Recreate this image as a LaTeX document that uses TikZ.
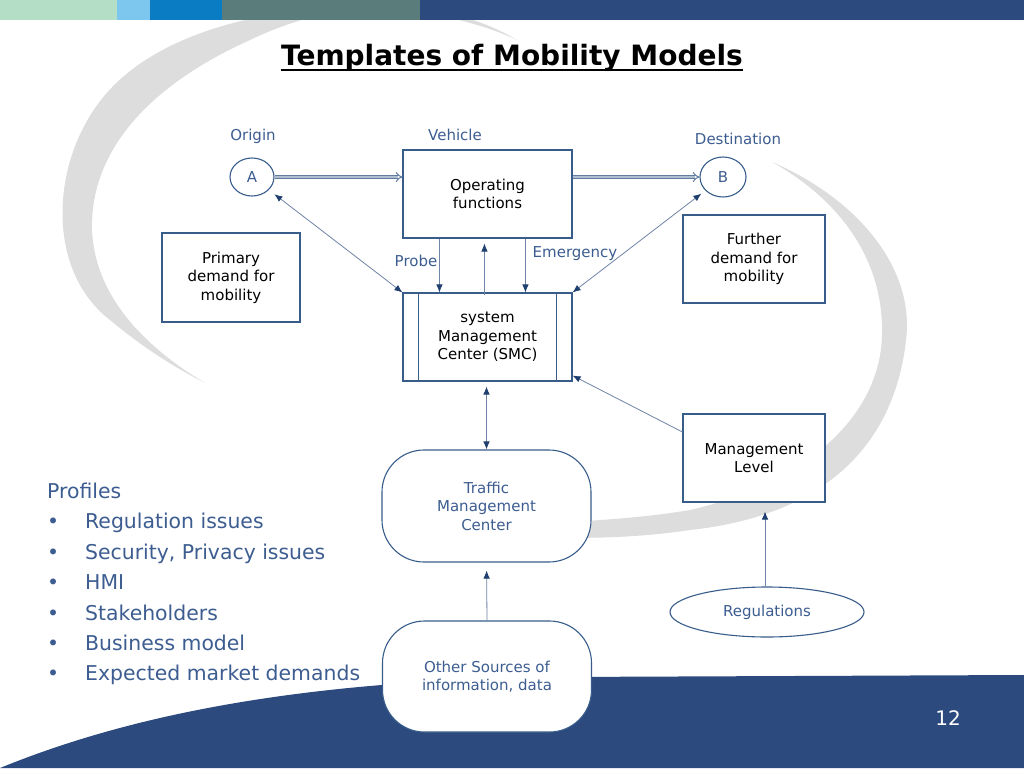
\documentclass[tikz,border=0pt]{standalone}
\usepackage{fontspec}
\setmainfont{DejaVu Sans}
\usepackage{xcolor}
\usetikzlibrary{arrows.meta,shapes.geometric}

\definecolor{barmint}{HTML}{B4DEC6}
\definecolor{barsky}{HTML}{7DC6EE}
\definecolor{barblue}{HTML}{0A7CC3}
\definecolor{barteal}{HTML}{5A7C7A}
\definecolor{navy}{HTML}{2D4A7F}
\definecolor{boxblue}{HTML}{385D8A}
\definecolor{txtblue}{HTML}{3D5D91}
\definecolor{linegray}{HTML}{6F84A6}
\definecolor{tipnavy}{HTML}{1F3F6F}
\definecolor{swoosh}{HTML}{DDDDDD}

\newcommand{\boxfont}{\fontsize{15}{18.5}\selectfont}
\newcommand{\listfont}{\fontsize{20.4}{30.4}\selectfont}
\newcommand{\bul}{\makebox[38pt][l]{\textbullet}}

\begin{document}
\begin{tikzpicture}[x=1pt,y=-1pt,
    >={Latex[length=8pt,width=6.5pt,color=tipnavy]},
    box/.style={draw=boxblue, line width=1.1pt, fill=white, inner sep=0pt, align=center, font=\boxfont},
    circ/.style={ellipse, draw=boxblue, line width=1.1pt, fill=white, inner sep=0pt, minimum width=44pt, minimum height=38pt, text=txtblue, font=\boxfont},
    pill/.style={box, rounded corners=42pt, minimum width=209pt, minimum height=112pt, text=txtblue},
    oval/.style={ellipse, draw=boxblue, line width=1.1pt, fill=white, inner sep=0pt, minimum width=194pt, minimum height=50pt, text=txtblue, font=\boxfont},
    lbl/.style={inner sep=0pt, text=txtblue, font=\boxfont},
    listitem/.style={anchor=base west, inner sep=0pt, text=txtblue, font=\listfont},
    dbl/.style={draw=boxblue!80, double=boxblue!40, double distance=2.4pt, line width=1pt, -{Implies}},
    conn/.style={draw=linegray, line width=0.8pt}]

    % page
    \useasboundingbox (0,0) rectangle (1024,768);
    \fill[white] (0,0) rectangle (1024,768);

    % grey swoosh behind the diagram
    \fill[swoosh] (517,40) .. controls (400,-15) and (185,0) .. (105,95)
        .. controls (50,160) and (45,270) .. (110,320)
        .. controls (140,345) and (170,365) .. (205,383)
        .. controls (150,350) and (95,300) .. (92,230)
        .. controls (90,150) and (150,85) .. (250,40)
        .. controls (350,-8) and (450,0) .. (517,40) -- cycle;
    \fill[swoosh] (772,162) .. controls (860,200) and (915,270) .. (906,340)
        .. controls (895,440) and (830,515) .. (690,530)
        .. controls (610,542) and (520,540) .. (430,525)
        .. controls (520,525) and (620,522) .. (690,510)
        .. controls (800,485) and (880,420) .. (882,335)
        .. controls (884,260) and (840,200) .. (772,162) -- cycle;

    % top bar
    \fill[barmint] (0,0) rectangle (117,20);
    \fill[barsky] (117,0) rectangle (150,20);
    \fill[barblue] (150,0) rectangle (222,20);
    \fill[barteal] (222,0) rectangle (420,20);
    \fill[navy] (420,0) rectangle (1024,20);

    % bottom wave
    \fill[navy] (0,768) .. controls (130,715) and (300,680) .. (560,677) -- (1024,675) -- (1024,768) -- cycle;
    \node[text=white, inner sep=0pt, font=\fontsize{20}{24}\selectfont] (pnum) at (948,718) {12};

    % title
    \node[anchor=base, inner sep=0pt, font=\fontsize{28}{34}\selectfont\bfseries] (title) at (512,66) {Templates of Mobility Models};
    \draw[line width=1.6pt] ([yshift=-4pt]title.base west) -- ([yshift=-4pt]title.base east);

    % origin, vehicle, destination
    \node[circ] (A) at (252,177) {A};
    \node[circ, minimum width=46pt, minimum height=40pt] (B) at (723,177) {B};
    \node[box, minimum width=169pt, minimum height=88pt] (ops) at (487.5,194) {Operating\\functions};
    \node[lbl] (origin) at (253,136) {Origin};
    \node[lbl] (vehicle) at (455,135) {Vehicle};
    \node[lbl] (dest) at (738,139) {Destination};

    % demand boxes
    \node[box, minimum width=138pt, minimum height=89pt] (prim) at (231,277.5) {Primary\\demand for\\mobility};
    \node[box, minimum width=142pt, minimum height=88pt] (furth) at (754,259) {Further\\demand for\\mobility};

    % management centres
    \node[box, minimum width=169pt, minimum height=88pt] (smc) at (487.5,337) {system\\Management\\Center (SMC)};
    \draw[boxblue, line width=1.1pt] ([xshift=16pt]smc.north west) -- ([xshift=16pt]smc.south west);
    \draw[boxblue, line width=1.1pt] ([xshift=-16pt]smc.north east) -- ([xshift=-16pt]smc.south east);
    \node[box, minimum width=142pt, minimum height=88pt] (mgmt) at (754,458) {Management\\Level};
    \node[pill] (tmc) at (486.5,506) {Traffic\\Management\\Center};
    \node[pill, minimum height=111pt] (other) at (487,676.5) {Other Sources of\\information, data};
    \node[oval] (reg) at (767,612) {Regulations};

    % flows
    \draw[dbl] (A.east) -- (A.east -| ops.west);
    \draw[dbl] (ops.east |- B.west) -- (B.west);
    \draw[conn, <->, shorten >=7pt] (smc.north west) -- (A);
    \draw[conn, <->, shorten >=5pt] (smc.north east) -- (B);
    \draw[conn, ->] ([xshift=37pt]ops.south west) -- ([xshift=37pt]smc.north west);
    \draw[conn, ->] ([xshift=82pt,yshift=-3pt]smc.north west) -- ([xshift=82pt,yshift=-5pt]ops.south west);
    \draw[conn, ->] ([xshift=123pt]ops.south west) -- ([xshift=123pt]smc.north west);
    \node[lbl] (probe) at (416,261) {Probe};
    \node[lbl] (emerg) at (575,254) {Emergency};
    \draw[conn, <->, shorten <=5pt] ([xshift=-1pt]smc.south) -- (tmc.north);
    \draw[conn, ->] ([yshift=26pt]mgmt.west) -- ([yshift=6pt]smc.south east);
    \draw[conn, ->, shorten >=8pt] (other.north) -- (tmc.south);
    \draw[conn, ->, shorten >=9pt] ([xshift=-2pt]reg.north) -- ([xshift=11pt]mgmt.south);

    % profiles
    \node[listitem] (prof) at (47,498.5) {Profiles};
    \node[listitem] (prof1) at (47,528.9) {\bul Regulation issues};
    \node[listitem] (prof2) at (47,559.3) {\bul Security, Privacy issues};
    \node[listitem] (prof3) at (47,589.7) {\bul HMI};
    \node[listitem] (prof4) at (47,620.1) {\bul Stakeholders};
    \node[listitem] (prof5) at (47,650.5) {\bul Business model};
    \node[listitem] (prof6) at (47,680.9) {\bul Expected market demands};
\end{tikzpicture}
\end{document}
